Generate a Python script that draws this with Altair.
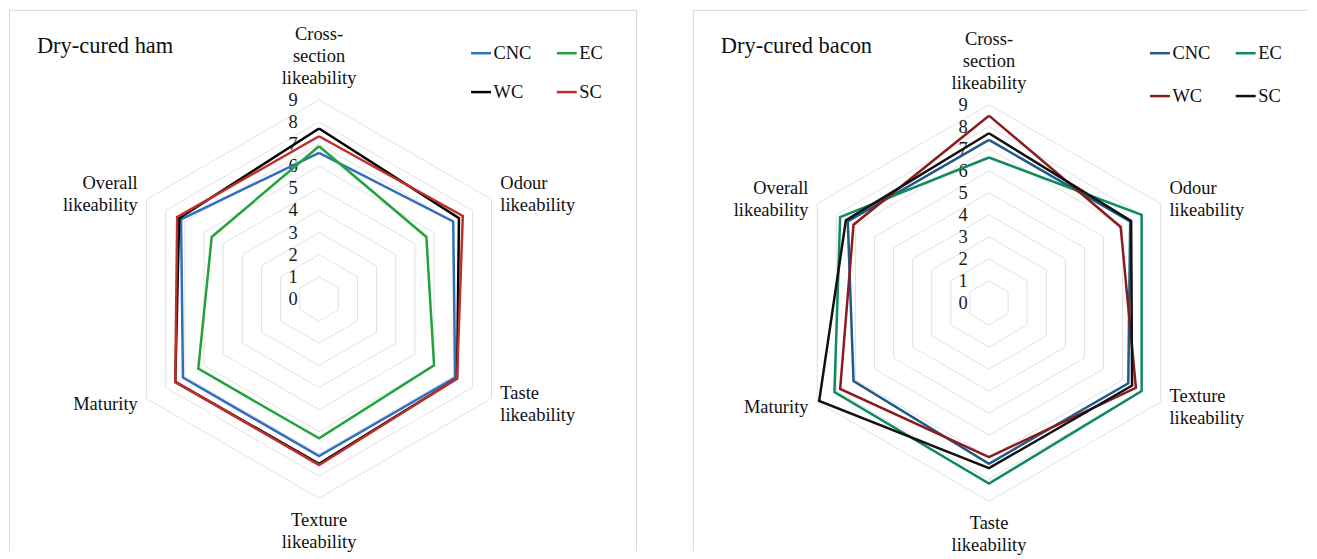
import altair as alt
import pandas as pd

# ---------------- data ----------------
series = ["CNC", "EC", "WC", "SC"]

ham_categories = ["Cross-\nsection\nlikeability", "Odour\nlikeability", "Taste\nlikeability",
                  "Texture\nlikeability", "Maturity", "Overall\nlikeability"]
ham_CNC = [6.6, 7.0, 7.1, 7.1, 7.1, 7.2]
ham_EC = [6.9, 5.6, 6.0, 6.3, 6.3, 5.6]
ham_WC = [7.7, 7.3, 7.2, 7.45, 7.5, 7.3]
ham_SC = [7.35, 7.5, 7.2, 7.5, 7.5, 7.4]

bacon_categories = ["Cross-\nsection\nlikeability", "Odour\nlikeability", "Texture\nlikeability",
                    "Taste\nlikeability", "Maturity", "Overall\nlikeability"]
bacon_CNC = [7.4, 7.4, 7.3, 7.3, 7.1, 7.4]
bacon_EC = [6.6, 8.0, 8.0, 8.2, 8.1, 7.8]
bacon_WC = [8.5, 6.9, 7.7, 7.0, 7.8, 7.1]
bacon_SC = [7.7, 7.45, 7.5, 7.5, 8.9, 7.5]

tick_labels = [0, 1, 2, 3, 4, 5, 6, 7, 8, 9]
grid_levels = [1, 2, 3, 4, 5, 6, 7, 8, 9]

FONT = "Liberation Serif"
FS = 18.5
LH = 22
GRID_COLOR = "#E2E2E2"
BORDER_COLOR = "#D9D9D9"


def series_df(cats, vals):
    n = len(cats)
    rows = []
    for s in series:
        for i in range(n + 1):
            rows.append({"series": s, "idx": i, "value": vals[s][i % n]})
    return pd.DataFrame(rows)


def grid_df(n):
    rows = []
    for lv in grid_levels:
        for i in range(n + 1):
            rows.append({"level": lv, "idx": i % n, "ord": i})
    return pd.DataFrame(rows)


def panel(title, cats, vals, colors, W, H, xdom, ydom, legend_xy, row_pad, right_border):
    n = len(cats)
    step = "2 * PI / %d" % n
    X = alt.X("x:Q", scale=alt.Scale(domain=xdom, nice=False, zero=False), axis=None)
    Y = alt.Y("y:Q", scale=alt.Scale(domain=ydom, nice=False, zero=False), axis=None)

    grid = (
        alt.Chart(grid_df(n))
        .transform_calculate(
            x="datum.level * sin(datum.idx * %s)" % step,
            y="datum.level * cos(datum.idx * %s)" % step,
        )
        .mark_line(stroke=GRID_COLOR, strokeWidth=1)
        .encode(x=X, y=Y, detail="level:N", order="ord:Q")
    )

    ticks = (
        alt.Chart(pd.DataFrame({"t": tick_labels}))
        .transform_calculate(x="0", y="datum.t")
        .mark_text(font=FONT, fontSize=FS, color="#1a1a1a", dx=-26, align="center", baseline="middle")
        .encode(x=X, y=Y, text="t:Q")
    )

    lines = (
        alt.Chart(series_df(cats, vals))
        .transform_calculate(
            x="datum.value * sin(datum.idx * %s)" % step,
            y="datum.value * cos(datum.idx * %s)" % step,
        )
        .mark_line(strokeWidth=2.5, strokeJoin="miter")
        .encode(
            x=X,
            y=Y,
            order="idx:Q",
            color=alt.Color(
                "series:N",
                scale=alt.Scale(domain=series, range=colors),
                legend=alt.Legend(
                    title=None,
                    orient="none",
                    direction="horizontal",
                    legendX=legend_xy[0],
                    legendY=legend_xy[1],
                    columns=2,
                    symbolType="stroke",
                    symbolSize=400,
                    symbolStrokeWidth=2.5,
                    labelFont=FONT,
                    labelFontSize=FS,
                    labelColor="#111111",
                    labelOffset=1,
                    rowPadding=row_pad,
                    columnPadding=19,
                    padding=0,
                ),
            ),
        )
    )

    lab_df = pd.DataFrame({"label": cats, "idx": list(range(n))})
    R_LAB = 9.46

    def lab_layer(i):
        nlines = cats[i].count("\n") + 1
        if i == 0:
            align, baseline, dy = "center", "bottom", -(nlines - 1) * LH - 2
        elif i == n // 2:
            align, baseline, dy = "center", "top", 3
        elif i < n // 2:
            align, baseline, dy = "left", "middle", -(nlines - 1) * LH / 2
        else:
            align, baseline, dy = "right", "middle", -(nlines - 1) * LH / 2
        return (
            alt.Chart(lab_df)
            .transform_filter("datum.idx == %d" % i)
            .transform_calculate(
                x="%f * sin(datum.idx * %s)" % (R_LAB, step),
                y="%f * cos(datum.idx * %s)" % (R_LAB, step),
            )
            .mark_text(font=FONT, fontSize=FS, color="#111111", align=align, baseline=baseline,
                       dy=dy, lineBreak="\n", lineHeight=LH)
            .encode(x=X, y=Y, text="label:N")
        )

    labels = [lab_layer(i) for i in range(n)]

    one = alt.Data(values=[{}])
    title_layer = alt.Chart(one).mark_text(
        font=FONT, fontSize=22.5, color="#111111", align="left", baseline="middle"
    ).encode(x=alt.value(28), y=alt.value(36), text=alt.value(title))

    borders = [
        alt.Chart(one).mark_rule(color=BORDER_COLOR, strokeWidth=1).encode(
            x=alt.value(0), x2=alt.value(W), y=alt.value(0.5)),
        alt.Chart(one).mark_rule(color=BORDER_COLOR, strokeWidth=1).encode(
            x=alt.value(0.5), y=alt.value(0), y2=alt.value(H)),
    ]
    if right_border:
        borders.append(
            alt.Chart(one).mark_rule(color=BORDER_COLOR, strokeWidth=1).encode(
                x=alt.value(W - 0.5), y=alt.value(0), y2=alt.value(H)))

    return alt.layer(*borders, grid, ticks, lines, *labels, title_layer).properties(width=W, height=H)


H = 543
UNIT_L = 22.2
W_L = 630
cxL, cyL = 311, 290
left = panel(
    "Dry-cured ham",
    ham_categories,
    {"CNC": ham_CNC, "EC": ham_EC, "WC": ham_WC, "SC": ham_SC},
    ["#2F6EC0", "#23A33C", "#000000", "#BE2E2A"],
    W_L, H,
    [-cxL / UNIT_L, (W_L - cxL) / UNIT_L],
    [-(H - cyL) / UNIT_L, cyL / UNIT_L],
    (462, 32), 18, True,
)

UNIT_R = 22.1
W_R = 617
cxR, cyR = 297, 294
right = panel(
    "Dry-cured bacon",
    bacon_categories,
    {"CNC": bacon_CNC, "EC": bacon_EC, "WC": bacon_WC, "SC": bacon_SC},
    ["#1F5A8A", "#0E8A5C", "#8B1C1C", "#111111"],
    W_R, H,
    [-cxR / UNIT_R, (W_R - cxR) / UNIT_R],
    [-(H - cyR) / UNIT_R, cyR / UNIT_R],
    (457, 32), 22, False,
)

chart = (
    alt.hconcat(left, right, spacing=54)
    .resolve_scale(color="independent", x="independent", y="independent")
    .configure_view(stroke=None)
    .properties(padding=0)
)

chart.save("out.html", embed_options={"renderer": "svg", "actions": False})
